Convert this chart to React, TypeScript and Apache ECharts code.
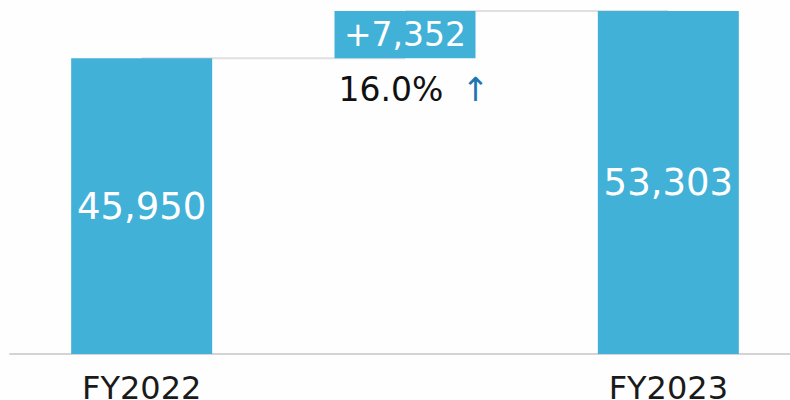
import React, { useEffect, useRef } from "react";
import * as echarts from "echarts";

const categories = ["FY2022", "", "FY2023"];
const baseValues = [0, 45950, 0];
const barValues = [45950, 7352, 53303];
const deltaIndex = 1;
const growthText = "16.0%";
const startLine = [45950, 45950, null];
const endLine = [null, 53303, 53303];

const BAR = "#42b1d8";
const FONT = "DejaVu Sans";

export default function App() {
  const ref = useRef<HTMLDivElement>(null);
  useEffect(() => {
    document.body.style.margin = "0";
    if (!ref.current) return;
    const chart = echarts.init(ref.current, undefined, { renderer: "svg" });
    const fmt = (v: number) => v.toLocaleString("en-US");
    chart.setOption({
      animation: false,
      backgroundColor: "#fefefe",
      grid: {
        left: 10,
        top: 0,
        width: 790,
        height: 354,
        containLabel: false,
        outerBoundsMode: "none",
      },
      xAxis: {
        type: "category",
        data: categories,
        axisLine: { show: true, lineStyle: { color: "#d4d4d4", width: 2 } },
        axisTick: { show: false },
        axisLabel: {
          fontFamily: FONT,
          fontSize: 32,
          color: "#1a1a1a",
          margin: 18,
          interval: 0,
        },
      },
      yAxis: {
        type: "value",
        min: 0,
        max: 55000,
        show: false,
        splitLine: { show: false },
      },
      series: [
        {
          type: "line",
          data: startLine,
          symbol: "none",
          z: 1,
          lineStyle: { color: "#e0e0e0", width: 2 },
          silent: true,
        },
        {
          type: "line",
          data: endLine,
          symbol: "none",
          z: 1,
          lineStyle: { color: "#e0e0e0", width: 2 },
          silent: true,
        },
        {
          type: "bar",
          stack: "wf",
          barWidth: 141,
          z: 2,
          itemStyle: { color: "transparent" },
          data: baseValues.map((v, i) => ({
            value: v,
            label:
              i === deltaIndex
                ? {
                    show: true,
                    position: "insideTop",
                    distance: 15,
                    offset: [9, 0],
                    fontFamily: FONT,
                    fontSize: 33,
                    color: "#111111",
                    formatter: () => `${growthText} {a|↑}`,
                    rich: {
                      a: {
                        fontFamily: FONT,
                        fontSize: 33,
                        color: "#1f74b4",
                        padding: [0, 0, 0, 8],
                      },
                    },
                  }
                : { show: false },
          })),
        },
        {
          type: "bar",
          stack: "wf",
          barWidth: 141,
          z: 2,
          itemStyle: { color: BAR },
          data: barValues.map((v, i) => ({
            value: v,
            label: {
              show: true,
              position: "inside",
              fontFamily: FONT,
              fontSize: i === deltaIndex ? 33 : 37,
              color: "#ffffff",
              formatter: () => (i === deltaIndex ? "+" + fmt(v) : fmt(v)),
            },
          })),
        },
      ],
    });
    return () => chart.dispose();
  }, []);
  return <div ref={ref} style={{ width: 790, height: 400 }} />;
}
